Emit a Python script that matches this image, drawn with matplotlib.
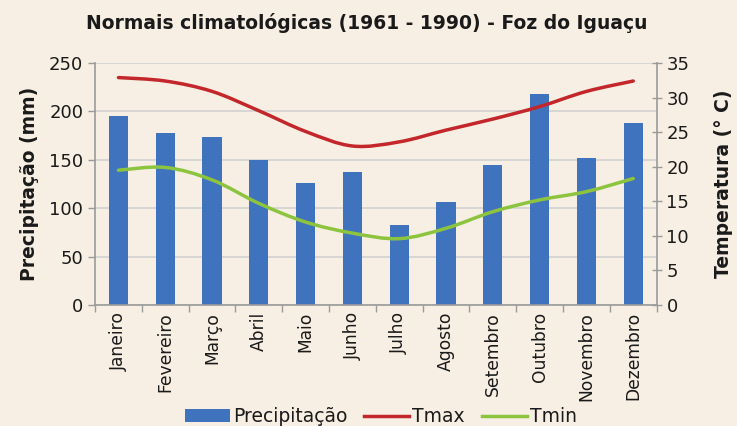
import matplotlib
matplotlib.use("Agg")
import matplotlib.pyplot as plt
import numpy as np
from matplotlib.path import Path
from matplotlib.patches import PathPatch, Patch
from matplotlib.lines import Line2D

months = ["Janeiro", "Fevereiro", "Março", "Abril", "Maio", "Junho",
          "Julho", "Agosto", "Setembro", "Outubro", "Novembro", "Dezembro"]
precip = [195, 178, 174, 150, 126, 137, 83, 106, 145, 218, 152, 188]
tmax = [32.9, 32.4, 30.9, 28.1, 25.1, 23.0, 23.6, 25.3, 26.9, 28.7, 30.9, 32.4]
tmin = [19.5, 19.9, 18.1, 14.7, 12.0, 10.4, 9.6, 11.1, 13.5, 15.2, 16.4, 18.3]

plt.rcParams['font.family'] = ['DejaVu Sans']

BG = "#f7efe3"
BLUE = "#3f73bd"
RED = "#c3262b"
GREEN = "#8dc43f"
GRAY = "#9a9a9a"
TXT = "#1a1a1a"

fig = plt.figure(figsize=(7.37, 4.26), dpi=100, facecolor=BG)
ax = fig.add_axes([0.129, 0.284, 0.762, 0.568])
ax.set_facecolor("none")
x = np.arange(len(months))
ax.bar(x, precip, width=0.41, color=BLUE, zorder=2)
ax.set_xlim(-0.5, len(months) - 0.5)
ax.set_ylim(0, 250)
ax.set_yticks(range(0, 251, 50))
ax.yaxis.grid(True, color="#d2d2d2", linewidth=1.2, zorder=0)
ax.set_axisbelow(True)
ax.set_xticks(x)
ax.set_xticklabels(months, rotation=90, fontsize=12.3, color=TXT)
ax.set_xticks(np.arange(-0.5, len(months)), minor=True)
ax.tick_params(axis='x', which='major', length=0, pad=5)
ax.tick_params(axis='x', which='minor', length=5, color=GRAY, width=1)
ax.tick_params(axis='y', length=5, color=GRAY, width=1, labelsize=13, labelcolor=TXT)
for s in ["top", "right"]:
    ax.spines[s].set_visible(False)
for s in ["left", "bottom"]:
    ax.spines[s].set_color(GRAY)
    ax.spines[s].set_linewidth(1.2)
ax.set_ylabel("Precipitação (mm)", fontsize=13.5, fontweight="bold", labelpad=7, color=TXT)

ax2 = ax.twinx()
ax2.set_ylim(0, 35)
ax2.set_yticks(range(0, 36, 5))
ax2.tick_params(axis='y', direction='inout', length=7, color=GRAY, width=1,
                labelsize=13, labelcolor=TXT)
for s in ["top", "left", "bottom"]:
    ax2.spines[s].set_visible(False)
ax2.spines["right"].set_color(GRAY)
ax2.spines["right"].set_linewidth(1.2)
ax2.set_ylabel("Temperatura (° C)", fontsize=13.5, fontweight="bold", labelpad=18, color=TXT)


def smooth_path(xs, ys, t=1/6):
    xs = np.asarray(xs, float)
    ys = np.asarray(ys, float)
    verts = [(xs[0], ys[0])]
    codes = [Path.MOVETO]
    n = len(xs)
    for i in range(n - 1):
        p0 = (xs[max(i - 1, 0)], ys[max(i - 1, 0)])
        p1 = (xs[i], ys[i])
        p2 = (xs[i + 1], ys[i + 1])
        p3 = (xs[min(i + 2, n - 1)], ys[min(i + 2, n - 1)])
        c1 = (p1[0] + (p2[0] - p0[0]) * t, p1[1] + (p2[1] - p0[1]) * t)
        c2 = (p2[0] - (p3[0] - p1[0]) * t, p2[1] - (p3[1] - p1[1]) * t)
        verts += [c1, c2, p2]
        codes += [Path.CURVE4] * 3
    return Path(verts, codes)


ax2.add_patch(PathPatch(smooth_path(x, tmax), facecolor="none", edgecolor=RED,
                        linewidth=2.5, zorder=3, capstyle="round"))
ax2.add_patch(PathPatch(smooth_path(x, tmin), facecolor="none", edgecolor=GREEN,
                        linewidth=2.5, zorder=3, capstyle="round"))

fig.text(0.497, 0.945, "Normais climatológicas (1961 - 1990) - Foz do Iguaçu",
         ha="center", va="center", fontsize=13.5, fontweight="bold", color=TXT)

handles = [Patch(facecolor=BLUE, edgecolor="none"),
           Line2D([0], [0], color=RED, lw=2.5),
           Line2D([0], [0], color=GREEN, lw=2.5)]
fig.legend(handles, ["Precipitação", "Tmax", "Tmin"], loc="center",
           bbox_to_anchor=(0.517, 0.022), ncol=3, frameon=False, fontsize=13.5,
           handlelength=2.4, handletextpad=0.15, columnspacing=0.9,
           labelcolor=TXT)

fig.savefig("out.png", dpi=100, facecolor=BG)
